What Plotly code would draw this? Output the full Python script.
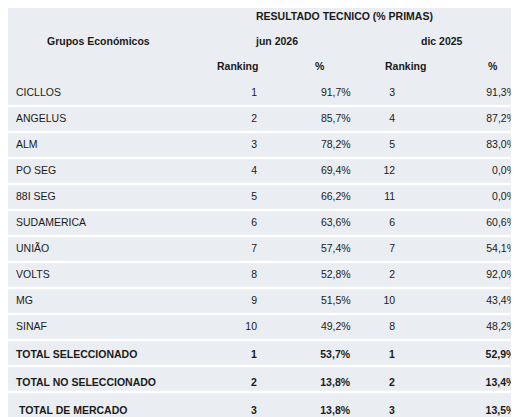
import plotly.graph_objects as go

groups = ["CICLLOS","ANGELUS","ALM","PO SEG","88I SEG","SUDAMERICA","UNIÃO","VOLTS","MG","SINAF",
          "TOTAL SELECCIONADO","TOTAL NO SELECCIONADO"," TOTAL DE MERCADO"]
rank_jun = [1,2,3,4,5,6,7,8,9,10,1,2,3]
pct_jun = [91.7,85.7,78.2,69.4,66.2,63.6,57.4,52.8,51.5,49.2,53.7,13.8,13.8]
rank_dic = [3,4,5,12,11,6,7,2,10,8,1,2,3]
pct_dic = [91.3,87.2,83.0,0.0,0.0,60.6,54.1,92.0,43.4,48.2,52.9,13.4,13.5]
bold = [False]*10 + [True]*3

def fmt(v, b):
    s = f"{v:.1f}%".replace(".", ",")
    return f"<b>{s}</b>" if b else s
def bf(s, b):
    return f"<b>{s}</b>" if b else str(s)

W, H = 519, 417
top = 72
rh = 26
bg = "#eaeef2"
font = dict(family="Liberation Sans", size=10.5, color="#1a1a1a")

cols = [
    [bf(g, b) for g, b in zip(groups, bold)],
    [bf(r, b) for r, b in zip(rank_jun, bold)],
    [fmt(p, b) for p, b in zip(pct_jun, bold)],
    [bf(r, b) for r, b in zip(rank_dic, bold)],
    [fmt(p, b) for p, b in zip(pct_dic, bold)],
]
fig = go.Figure(go.Table(
    columnwidth=[200, 55, 93, 44, 120],
    domain=dict(x=[0, 0.995], y=[0, 1 - (top - 1) / H]),
    header=dict(values=[""] * 5, height=1, line=dict(width=0), fill_color=bg,
                font=dict(size=1)),
    cells=dict(values=cols, height=rh, fill_color=bg, line=dict(width=0),
               align=["left", "right", "right", "right", "right"],
               font=font),
))
anns = [
    ("<b>RESULTADO TECNICO (% PRIMAS)</b>", 336, 8),
    ("<b>Grupos Económicos</b>", 90, 33),
    ("<b>jun 2026</b>", 268, 33),
    ("<b>dic 2025</b>", 434, 33),
    ("<b>Ranking</b>", 229, 58),
    ("<b>%</b>", 312, 58),
    ("<b>Ranking</b>", 397, 58),
    ("<b>%</b>", 485, 58),
]
for t, x, y in anns:
    fig.add_annotation(text=t, x=x / W, y=1 - y / H, xref="paper", yref="paper",
                       showarrow=False, xanchor="center", yanchor="middle", font=font)
for j in range(12):
    y = 1 - (top + rh * (j + 1)) / H
    fig.add_shape(type="line", xref="paper", yref="paper", x0=0, x1=1, y0=y, y1=y,
                  line=dict(color="white", width=2.5), layer="above")
fig.update_layout(width=W, height=H, margin=dict(l=0, r=0, t=0, b=0),
                  paper_bgcolor=bg, plot_bgcolor=bg)
fig.write_html("out.html")
